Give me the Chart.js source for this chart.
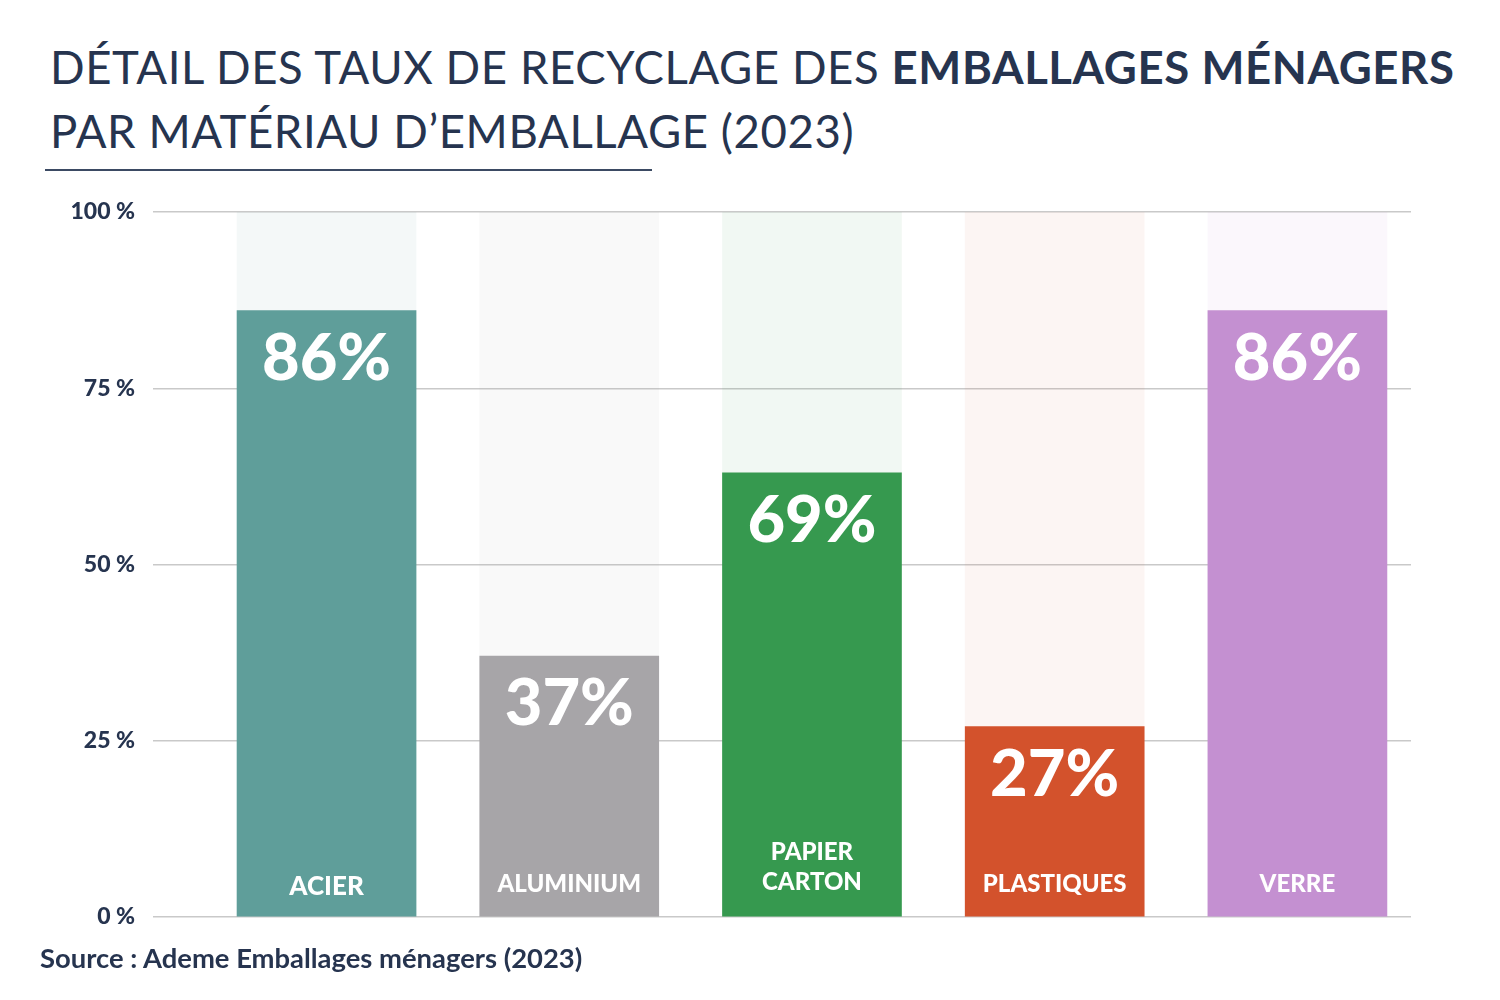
<!DOCTYPE html>
<html lang="fr">
<head>
<meta charset="utf-8">
<script src="https://cdn.jsdelivr.net/npm/chart.js@4.4.1/dist/chart.umd.min.js"></script>
<style>
  html, body { margin: 0; padding: 0; background: #fff; }
  #wrap { position: relative; width: 1500px; height: 1000px; overflow: hidden; }
  #title { position: absolute; left: 50px; top: 35px; margin: 0; font-family: Lato, "Noto Sans", sans-serif;
           font-weight: 400; font-size: 45.5px; line-height: 64px; color: #26344f; letter-spacing: 0.6px; white-space: nowrap; }
  #title b { font-weight: 700; }
  #rule { position: absolute; left: 45px; top: 169px; width: 607px; height: 2px; background: #3b4a63; }
  #source { position: absolute; left: 40px; top: 941px; font-family: Lato, "Noto Sans", sans-serif; font-weight: 700;
            font-size: 27.4px; color: #26344f; white-space: nowrap; }
  canvas { position: absolute; left: 0; top: 0; }
</style>
</head>
<body>
<div id="wrap">
  <h1 id="title">DÉTAIL DES TAUX DE RECYCLAGE DES <b>EMBALLAGES MÉNAGERS</b><br>PAR MATÉRIAU D’EMBALLAGE (2023)</h1>
  <div id="rule"></div>
  <canvas id="c" width="1500" height="1000"></canvas>
  <div id="source">Source : Ademe Emballages ménagers (2023)</div>
</div>
<script>
const categories = ["ACIER", "ALUMINIUM", ["PAPIER", "CARTON"], "PLASTIQUES", "VERRE"];
const barValues = [86, 37, 63, 27, 86];
const valueLabels = ["86%", "37%", "69%", "27%", "86%"];
const fullValues = [100, 100, 100, 100, 100];
const colors = ["#5f9e9a", "#a7a5a8", "#36994f", "#d3522c", "#c490d1"];
const bgColors = ["rgba(95,158,154,0.07)", "rgba(167,165,168,0.07)", "rgba(54,153,79,0.07)", "rgba(211,82,44,0.06)", "rgba(196,144,209,0.07)"];
const yTicks = [0, 25, 50, 75, 100];

const FONT = 'Lato, "Noto Sans", sans-serif';

const labelPlugin = {
  id: 'barLabels',
  afterDatasetsDraw(chart) {
    const ctx = chart.ctx;
    const meta = chart.getDatasetMeta(1);
    ctx.save();
    ctx.fillStyle = '#ffffff';
    ctx.textAlign = 'center';
    meta.data.forEach((bar, i) => {
      ctx.font = '900 65px ' + FONT;
      ctx.textBaseline = 'middle';
      ctx.fillText(valueLabels[i], bar.x, bar.y + 48);
      ctx.font = '900 24px ' + FONT;
      const cat = categories[i];
      if (Array.isArray(cat)) {
        ctx.fillText(cat[0], bar.x, bar.base - 64);
        ctx.fillText(cat[1], bar.x, bar.base - 34);
      } else {
        if (i === 0) ctx.font = '900 26px ' + FONT;
        ctx.fillText(cat, bar.x, bar.base - (i === 0 ? 30 : 32));
      }
    });
    ctx.restore();
  }
};

new Chart(document.getElementById('c'), {
  type: 'bar',
  data: {
    datasets: [
      {
        data: fullValues.map((v, i) => ({ x: i, y: v })),
        backgroundColor: bgColors,
        order: 2,
        grouped: false,
        barThickness: 179
      },
      {
        data: barValues.map((v, i) => ({ x: i, y: v })),
        backgroundColor: colors,
        order: 1,
        grouped: false,
        barThickness: 179
      }
    ]
  },
  options: {
    responsive: false,
    animation: false,
    devicePixelRatio: 1,
    layout: { padding: { left: 0, right: 89, top: 212, bottom: 83 } },
    plugins: { legend: { display: false }, tooltip: { enabled: false } },
    scales: {
      x: {
        type: 'linear',
        offset: false,
        min: -0.715,
        max: 4.468,
        display: false
      },
      y: {
        min: 0,
        max: 100,
        afterFit(scale) { scale.width = 153; },
        afterBuildTicks(scale) { scale.ticks = yTicks.map(v => ({ value: v })); },
        border: { display: false },
        grid: { color: '#c9c9c9', lineWidth: 1.5, drawTicks: false },
        ticks: {
          padding: 18,
          color: '#26344f',
          font: { family: FONT, weight: 900, size: 23 },
          callback: v => v + ' %'
        }
      }
    }
  },
  plugins: [labelPlugin]
});
</script>
</body>
</html>
